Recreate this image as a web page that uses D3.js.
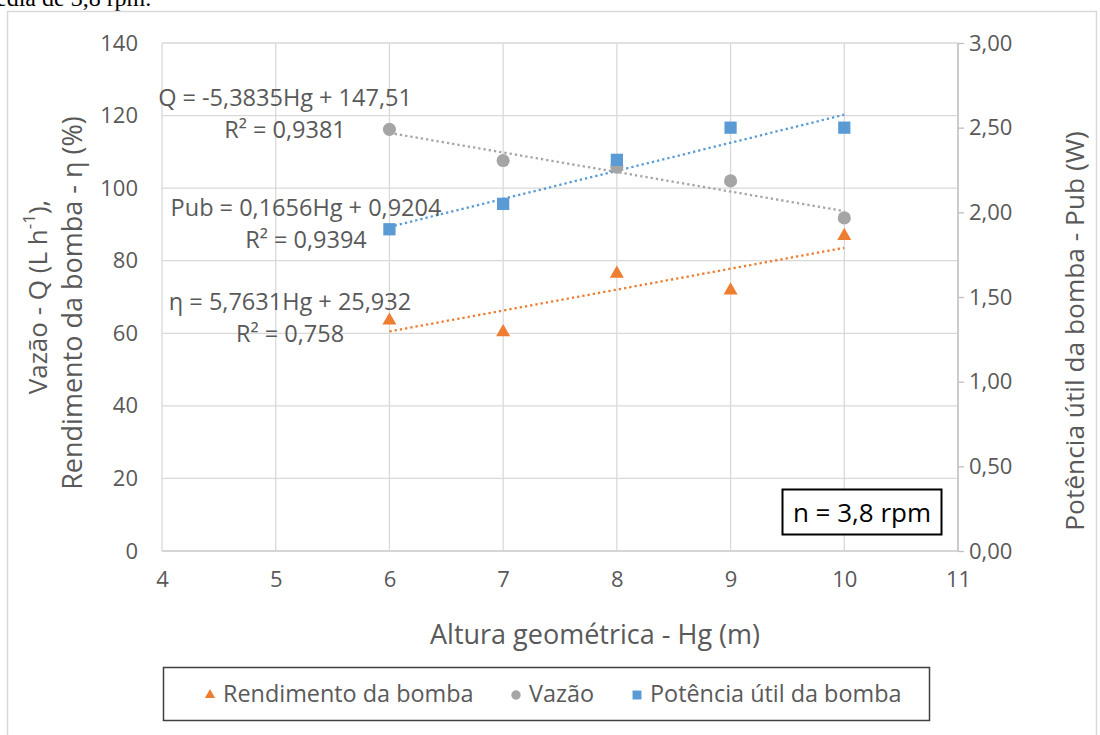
<!DOCTYPE html>
<html>
<head>
<meta charset="utf-8">
<script src="https://cdn.jsdelivr.net/npm/d3@7"></script>
<style>
    body { margin: 0; background: #fff; }
    svg text { font-family: "Open Sans", Lato, sans-serif; }
</style>
</head>
<body>
<svg id="chart" width="1100" height="735"></svg>
<script>
// Data
const hg = [6, 7, 8, 9, 10];
const rendimento = [63.8, 60.6, 76.7, 72.1, 87.1];   // η (%) - left axis
const vazao = [116.2, 107.6, 105.8, 102.0, 91.8];     // Q (L/h) - left axis
const potencia = [1.90, 2.05, 2.31, 2.50, 2.50];       // Pub (W) - right axis

// trendlines: [slope, intercept]
const trendRendimento = [5.7631, 25.932];
const trendVazao = [-5.3835, 147.51];
const trendPotencia = [0.1656, 0.9204];

const xTicks = [4, 5, 6, 7, 8, 9, 10, 11];
const leftTicks = [0, 20, 40, 60, 80, 100, 120, 140];
const rightTicks = [0, 0.5, 1, 1.5, 2, 2.5, 3];

const eqVazao = ["Q = -5,3835Hg + 147,51", "R² = 0,9381"];
const eqPotencia = ["Pub = 0,1656Hg + 0,9204", "R² = 0,9394"];
const eqRendimento = ["η = 5,7631Hg + 25,932", "R² = 0,758"];

const legendLabels = ["Rendimento da bomba", "Vazão", "Potência útil da bomba"];

// Layout
const svg = d3.select("#chart");
const plot = {left: 162, right: 958, top: 43, bottom: 551};
const textColor = "#595959";
const gridColor = "#d9d9d9";
const colors = {rend: "#ed7d31", vaz: "#a5a5a5", pot: "#5b9bd5"};

// Scales
const x = d3.scaleLinear().domain([4, 11]).range([plot.left, plot.right]);
const yL = d3.scaleLinear().domain([0, 140]).range([plot.bottom, plot.top]);
const yR = d3.scaleLinear().domain([0, 3]).range([plot.bottom, plot.top]);

// cropped caption line above the figure
svg.append("text")
    .attr("x", -4).attr("y", 6)
    .style("font-family", "'Liberation Serif', serif")
    .style("font-size", "24px")
    .attr("fill", "#000")
    .text("edia de 3,8 rpm.");

// outer chart frame
svg.append("rect")
    .attr("x", 7.5).attr("y", 11.5)
    .attr("width", 1089).attr("height", 740)
    .attr("fill", "none")
    .attr("stroke", gridColor)
    .attr("stroke-width", 1.5);

// Grid
const grid = svg.append("g");
grid.selectAll(".hg")
    .data(leftTicks)
    .enter().append("line")
    .attr("x1", plot.left).attr("x2", plot.right)
    .attr("y1", d => yL(d)).attr("y2", d => yL(d))
    .attr("stroke", gridColor).attr("stroke-width", 1.3);
grid.selectAll(".vg")
    .data(xTicks)
    .enter().append("line")
    .attr("x1", d => x(d)).attr("x2", d => x(d))
    .attr("y1", plot.top).attr("y2", plot.bottom)
    .attr("stroke", gridColor).attr("stroke-width", 1.3);

// bottom axis line
svg.append("line")
    .attr("x1", plot.left).attr("x2", plot.right)
    .attr("y1", plot.bottom).attr("y2", plot.bottom)
    .attr("stroke", "#d0d0d0").attr("stroke-width", 1.5);

// Axes
const fmtR = d => d3.format(".2f")(d).replace(".", ",");

const xAxis = svg.append("g")
    .attr("transform", `translate(0,${plot.bottom})`)
    .call(d3.axisBottom(x).tickValues(xTicks).tickFormat(d3.format("d")).tickSize(0).tickPadding(20));
const yAxisL = svg.append("g")
    .attr("transform", `translate(${plot.left},0)`)
    .call(d3.axisLeft(yL).tickValues(leftTicks).tickSize(0).tickPadding(24));
const yAxisR = svg.append("g")
    .attr("transform", `translate(${plot.right},0)`)
    .call(d3.axisRight(yR).tickValues(rightTicks).tickFormat(fmtR).tickSize(6).tickPadding(5));

[xAxis, yAxisL, yAxisR].forEach(a => {
    a.select(".domain").remove();
    a.selectAll("text")
        .attr("fill", textColor)
        .style("font-size", "22px");
});
yAxisR.selectAll("line").attr("stroke", "#bfbfbf").attr("stroke-width", 1.3);
svg.append("line")
    .attr("x1", plot.right).attr("x2", plot.right)
    .attr("y1", plot.top).attr("y2", plot.bottom)
    .attr("stroke", "#bfbfbf").attr("stroke-width", 1.3);

// Axis titles
svg.append("text")
    .attr("x", 595).attr("y", 633)
    .attr("text-anchor", "middle").attr("dominant-baseline", "central")
    .attr("fill", textColor).style("font-size", "27px")
    .text("Altura geométrica - Hg (m)");

const t1 = svg.append("text")
    .attr("transform", "translate(37,297) rotate(-90)")
    .attr("text-anchor", "middle").attr("dominant-baseline", "central")
    .attr("fill", textColor).style("font-size", "26px");
t1.append("tspan").text("Vazão - Q (L h");
t1.append("tspan").attr("dy", -9).style("font-size", "17px").text("-1");
t1.append("tspan").attr("dy", 9).text("),");

svg.append("text")
    .attr("transform", "translate(71,303) rotate(-90)")
    .attr("text-anchor", "middle").attr("dominant-baseline", "central")
    .attr("fill", textColor).style("font-size", "27px")
    .text("Rendimento da bomba - η (%)");

svg.append("text")
    .attr("transform", "translate(1074,331) rotate(-90)")
    .attr("text-anchor", "middle").attr("dominant-baseline", "central")
    .attr("fill", textColor).style("font-size", "26.3px")
    .text("Potência útil da bomba - Pub (W)");

// Trendlines
function trend(coef, yScale, color) {
    const pts = [hg[0], hg[hg.length - 1]].map(v => [x(v), yScale(coef[0] * v + coef[1])]);
    svg.append("path")
        .attr("d", d3.line()(pts))
        .attr("fill", "none")
        .attr("stroke", color)
        .attr("stroke-width", 2.3)
        .attr("stroke-dasharray", "2.3,3");
}
trend(trendVazao, yL, colors.vaz);
trend(trendPotencia, yR, colors.pot);
trend(trendRendimento, yL, colors.rend);

// Markers
const triangle = d3.symbol().type(d3.symbolTriangle).size(85);
const circle = d3.symbol().type(d3.symbolCircle).size(135);
const square = d3.symbol().type(d3.symbolSquare).size(150);

function markers(values, yScale, sym, color, dy) {
    svg.append("g").selectAll("path")
        .data(values)
        .enter().append("path")
        .attr("d", sym)
        .attr("transform", (d, i) => `translate(${x(hg[i])},${yScale(d) + dy})`)
        .attr("fill", color);
}
markers(vazao, yL, circle, colors.vaz, 0);
markers(potencia, yR, square, colors.pot, 0);
markers(rendimento, yL, triangle, colors.rend, 1);

// Equation labels
function equation(lines, cx, cy) {
    svg.append("g").selectAll("text")
        .data(lines)
        .enter().append("text")
        .attr("x", cx)
        .attr("y", (d, i) => cy + i * 32)
        .attr("text-anchor", "middle")
        .attr("dominant-baseline", "central")
        .attr("fill", textColor)
        .style("font-size", "23.5px")
        .text(d => d);
}
equation(eqVazao, 285, 97);
equation(eqPotencia, 306, 207);
equation(eqRendimento, 290, 301);

// n box
svg.append("rect")
    .attr("x", 782.5).attr("y", 489.5)
    .attr("width", 159).attr("height", 45)
    .attr("fill", "#fff").attr("stroke", "#000").attr("stroke-width", 2);
svg.append("text")
    .attr("x", 862).attr("y", 512)
    .attr("text-anchor", "middle").attr("dominant-baseline", "central")
    .attr("fill", "#000").style("font-size", "26px")
    .text("n = 3,8 rpm");

// Legend
const legend = svg.append("g");
legend.append("rect")
    .attr("x", 163.5).attr("y", 667.5)
    .attr("width", 766).attr("height", 53)
    .attr("fill", "#fff").attr("stroke", "#404040").attr("stroke-width", 1.5);

const legendSyms = [
    d3.symbol().type(d3.symbolTriangle).size(45),
    d3.symbol().type(d3.symbolCircle).size(70),
    d3.symbol().type(d3.symbolSquare).size(80)
];
const legendColors = [colors.rend, colors.vaz, colors.pot];
const legendX = [210, 516, 637];

legendLabels.forEach((label, i) => {
    legend.append("path")
        .attr("d", legendSyms[i])
        .attr("transform", `translate(${legendX[i]},${695})`)
        .attr("fill", legendColors[i]);
    legend.append("text")
        .attr("x", legendX[i] + 13).attr("y", 693)
        .attr("dominant-baseline", "central")
        .attr("fill", textColor)
        .style("font-size", "23.4px")
        .text(label);
});
</script>
</body>
</html>
